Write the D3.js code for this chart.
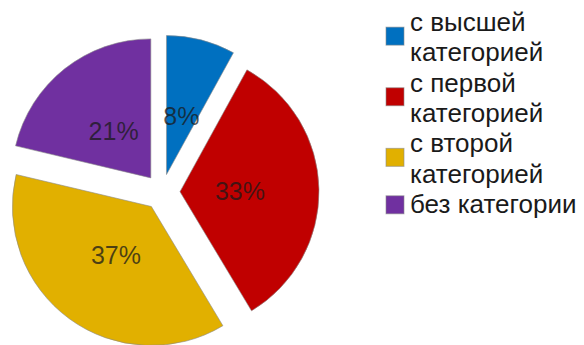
<!DOCTYPE html>
<html>
<head>
<meta charset="utf-8">
<script src="https://cdn.jsdelivr.net/npm/d3@7"></script>
<style>
  html, body { margin: 0; padding: 0; background: #fff; }
  svg { display: block; font-family: "Liberation Sans", Arial, sans-serif; }
</style>
</head>
<body>
<svg id="chart" width="584" height="345"></svg>
<script>
const categories = ['с высшей категорией', 'с первой категорией', 'с второй категорией', 'без категории']
const legendLines = [['с высшей', 'категорией'], ['с первой', 'категорией'], ['с второй', 'категорией'], ['без категории']]
const values = [8, 33.4, 37.3, 21.3]
const colors = ['#0070C0', '#C00000', '#E1B000', '#7030A0']

const cx = 162
const cy = 192
const radius = 139
const explode = 18
const labelRadius = 60

const svg = d3.select('#chart')
const total = d3.sum(values)
const pct = d3.format('.0%')

const pie = d3.pie().sort(null).value(d => d.value)
const arc = d3.arc().innerRadius(0).outerRadius(radius)

const data = pie(categories.map((c, i) => ({ name: c, value: values[i], color: colors[i] })))

const slices = svg.append('g')
  .attr('transform', `translate(${cx},${cy})`)
  .selectAll('g')
  .data(data)
  .enter()
  .append('g')
  .attr('transform', d => {
    const mid = (d.startAngle + d.endAngle) / 2
    return `translate(${explode * Math.sin(mid)},${-explode * Math.cos(mid)})`
  })

slices.append('path')
  .attr('d', arc)
  .attr('fill', d => d.data.color)
  .attr('stroke', '#8a8a8a')
  .attr('stroke-opacity', 0.6)
  .attr('stroke-width', 1)

slices.append('text')
  .attr('x', d => labelRadius * Math.sin((d.startAngle + d.endAngle) / 2))
  .attr('y', d => -labelRadius * Math.cos((d.startAngle + d.endAngle) / 2))
  .attr('dy', '0.36em')
  .attr('text-anchor', 'middle')
  .attr('font-size', 25)
  .attr('fill', '#1a1a1a')
  .attr('fill-opacity', 0.75)
  .text(d => pct(d.data.value / total))

// legend
const lineHeight = 30.3
const legendX = 386
const firstLine = 24
const legend = svg.append('g')
let line = 0
legendLines.forEach((lines, i) => {
  const top = firstLine + line * lineHeight
  const mid = top + (lines.length - 1) * lineHeight / 2 - (lines.length > 1 ? 3 : 1)
  legend.append('rect')
    .attr('x', legendX)
    .attr('y', mid - 9)
    .attr('width', 18)
    .attr('height', 18)
    .attr('fill', colors[i])
    .attr('stroke', '#8a8a8a')
    .attr('stroke-opacity', 0.6)
  const t = legend.append('text')
    .attr('font-size', 26)
    .attr('fill', '#1a1a1a')
  lines.forEach((s, j) => {
    t.append('tspan')
      .attr('x', legendX + 24)
      .attr('y', top + j * lineHeight)
      .attr('dy', '0.27em')
      .text(s)
  })
  line += lines.length
})
</script>
</body>
</html>
